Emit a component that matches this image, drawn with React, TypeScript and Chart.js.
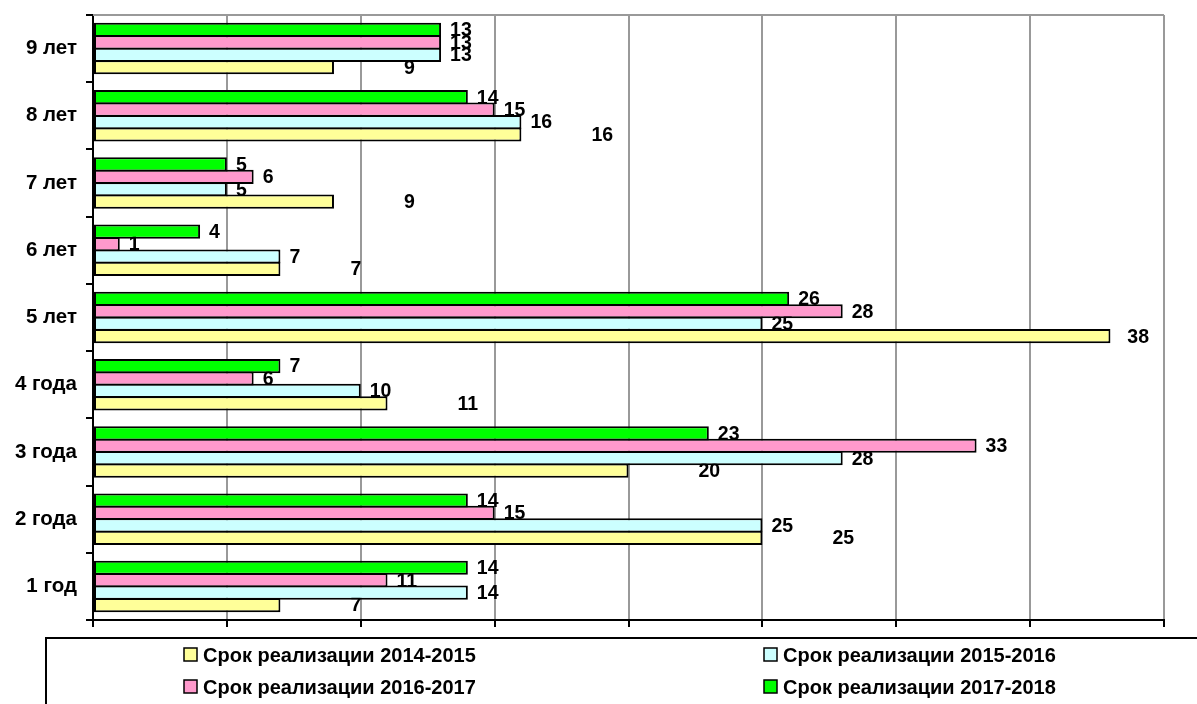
import React, { useEffect, useRef } from "react";
import { Chart, registerables } from "chart.js";

Chart.register(...registerables);

// Categories listed top-to-bottom as in the picture
const categories = ["9 лет", "8 лет", "7 лет", "6 лет", "5 лет", "4 года", "3 года", "2 года", "1 год"];

const series2014_2015 = [9, 16, 9, 7, 38, 11, 20, 25, 7];
const series2015_2016 = [13, 16, 5, 7, 25, 10, 28, 25, 14];
const series2016_2017 = [13, 15, 6, 1, 28, 6, 33, 15, 11];
const series2017_2018 = [13, 14, 5, 4, 26, 7, 23, 14, 14];

const seriesNames = [
  "Срок реализации 2014-2015",
  "Срок реализации 2015-2016",
  "Срок реализации 2016-2017",
  "Срок реализации 2017-2018",
];

const xMin = 0;
const xMax = 40;
const xStep = 5;

const FONT = "Arial, 'Liberation Sans', sans-serif";
const colors = ["#FFFF99", "#CCFFFF", "#FF99CC", "#00FF00"];
const labelGap = [70, 9, 9, 9];

const W = 1197;
const H = 704;

const labelsPlugin = {
  id: "valueLabels",
  beforeDatasetsDraw(chart: any) {
    const ctx = chart.ctx;
    const area = chart.chartArea;
    ctx.save();
    ctx.font = `bold 19.5px ${FONT}`;
    ctx.fillStyle = "#000";
    ctx.textBaseline = "middle";
    ctx.textAlign = "left";
    chart.data.datasets.forEach((ds: any, di: number) => {
      const meta = chart.getDatasetMeta(di);
      const gap = ds.labelGap ?? 9;
      meta.data.forEach((bar: any, i: number) => {
        const txt = String(ds.data[i]);
        const w = ctx.measureText(txt).width;
        let x = bar.x + gap;
        if (x + w > area.right - 15) x = Math.max(bar.x + 15, area.right - 15 - w);
        ctx.fillText(txt, x, bar.y + 1);
      });
    });
    ctx.restore();
  },
};

const framePlugin = {
  id: "frameAndLegend",
  afterDraw(chart: any) {
    const ctx = chart.ctx;
    const a = chart.chartArea;
    ctx.save();
    // top border (gray)
    ctx.strokeStyle = "#999999";
    ctx.lineWidth = 2;
    ctx.beginPath();
    ctx.moveTo(a.left, a.top);
    ctx.lineTo(a.right, a.top);
    ctx.stroke();
    // legend box
    ctx.strokeStyle = "#000";
    ctx.lineWidth = 2;
    ctx.beginPath();
    ctx.moveTo(46, H + 2);
    ctx.lineTo(46, 638);
    ctx.lineTo(W + 2, 638);
    ctx.stroke();
    // legend items (2 x 2)
    const order = [0, 1, 2, 3];
    const cols = [184, 764];
    const rows = [655, 687];
    ctx.font = `bold 20px ${FONT}`;
    ctx.textBaseline = "middle";
    ctx.textAlign = "left";
    order.forEach((si, k) => {
      const cx = cols[k % 2];
      const cy = rows[Math.floor(k / 2)];
      ctx.fillStyle = colors[si];
      ctx.fillRect(cx, cy - 7, 13, 13);
      ctx.strokeStyle = "#000";
      ctx.lineWidth = 1.5;
      ctx.strokeRect(cx, cy - 7, 13, 13);
      ctx.fillStyle = "#000";
      ctx.fillText(seriesNames[si], cx + 19, cy + 1);
    });
    ctx.restore();
  },
};

export default function App() {
  const ref = useRef<HTMLCanvasElement | null>(null);

  useEffect(() => {
    document.body.style.margin = "0";
    if (!ref.current) return;
    const allSeries = [series2014_2015, series2015_2016, series2016_2017, series2017_2018];
    // dataset 0 is drawn at the top of each category: green first, yellow last
    const drawOrder = [3, 2, 1, 0];
    const datasets = drawOrder.map((si) => ({
      label: seriesNames[si],
      data: allSeries[si],
      backgroundColor: colors[si],
      borderColor: "#000000",
      borderWidth: 2,
      borderSkipped: false,
      categoryPercentage: 0.74,
      barPercentage: 1.14,
      labelGap: labelGap[si],
    }));

    const chart = new Chart(ref.current, {
      type: "bar",
      data: { labels: categories, datasets: datasets as any },
      options: {
        indexAxis: "y",
        animation: false,
        responsive: false,
        maintainAspectRatio: false,
        layout: { padding: { top: 15, right: 33, bottom: 77, left: 0 } },
        plugins: {
          legend: { display: false },
          tooltip: { enabled: false },
        },
        scales: {
          x: {
            type: "linear",
            min: xMin,
            max: xMax,
            ticks: { stepSize: xStep, display: false },
            grid: {
              color: "#999999",
              lineWidth: 2,
              tickColor: "#000000",
              tickLength: 7,
              drawTicks: true,
            },
            border: { color: "#000000", width: 2 },
            afterFit: (s: any) => {
              s.height = 7;
              s.paddingLeft = 0;
              s.paddingRight = 0;
            },
          },
          y: {
            type: "category",
            offset: true,
            ticks: {
              color: "#000000",
              font: { family: FONT, size: 20.5, weight: "bold" },
              padding: 9,
            },
            grid: {
              offset: true,
              drawOnChartArea: false,
              color: "#000000",
              tickColor: "#000000",
              tickLength: 7,
              lineWidth: 2,
            },
            border: { color: "#000000", width: 2 },
            afterFit: (s: any) => {
              s.width = 93;
              s.paddingTop = 0;
              s.paddingBottom = 0;
            },
          },
        },
      },
      plugins: [labelsPlugin, framePlugin],
    });
    return () => chart.destroy();
  }, []);

  return (
    <div style={{ width: W, height: H, position: "relative" }}>
      <canvas ref={ref} width={W} height={H} style={{ display: "block" }} />
    </div>
  );
}
